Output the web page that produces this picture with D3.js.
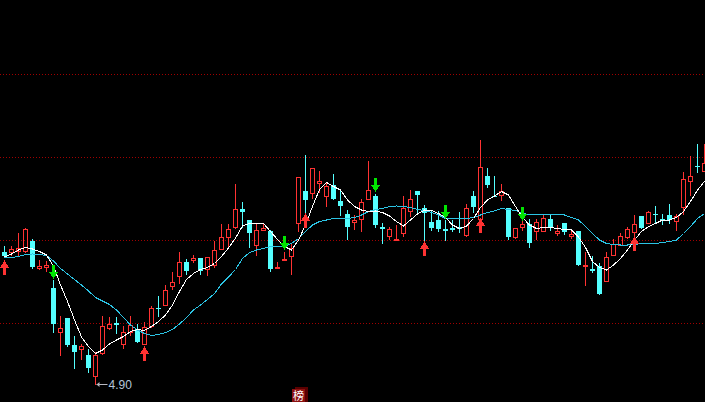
<!DOCTYPE html>
<html><head><meta charset="utf-8">
<script src="https://cdn.jsdelivr.net/npm/d3@7"></script>
<style>html,body{margin:0;padding:0;background:#000;overflow:hidden}svg{display:block}</style>
</head><body>
<svg id="c" width="705" height="402"></svg>
<script>
const opens = [5.165,5.167,5.169,5.169,5.188,5.135,5.137,5.093,5.007,5.034,
4.979,4.971,4.960,4.919,4.963,5.015,5.024,4.983,5.007,5.011,
4.983,5.017,5.055,5.059,5.097,5.117,5.146,5.150,5.154,5.131,
5.140,5.171,5.195,5.217,5.252,5.229,5.179,5.210,5.207,5.133,
5.150,5.159,5.223,5.288,5.283,5.305,5.278,5.300,5.268,5.242,
5.226,5.231,5.273,5.278,5.215,5.197,5.189,5.203,5.249,5.287,
5.253,5.226,5.230,5.211,5.213,5.215,5.201,5.278,5.231,5.317,
5.278,5.281,5.254,5.195,5.215,5.221,5.209,5.209,5.231,5.203,
5.223,5.197,5.208,5.138,5.132,5.138,5.107,5.161,5.180,5.195,
5.205,5.238,5.225,5.242,5.232,5.241,5.227,5.255,5.307,5.338,5.329];
const highs = [5.178,5.178,5.203,5.214,5.192,5.150,5.148,5.110,5.038,5.034,
4.997,4.982,4.971,4.965,5.037,5.035,5.036,5.017,5.037,5.022,
5.025,5.057,5.078,5.100,5.125,5.166,5.153,5.160,5.154,5.155,
5.187,5.222,5.222,5.302,5.266,5.229,5.222,5.222,5.210,5.146,
5.165,5.181,5.315,5.360,5.333,5.327,5.305,5.322,5.287,5.250,
5.240,5.273,5.348,5.282,5.223,5.215,5.220,5.278,5.290,5.287,
5.260,5.247,5.247,5.230,5.230,5.245,5.262,5.289,5.389,5.333,
5.317,5.302,5.254,5.214,5.230,5.231,5.231,5.240,5.240,5.219,
5.223,5.210,5.208,5.166,5.157,5.143,5.166,5.193,5.203,5.215,
5.240,5.238,5.249,5.258,5.242,5.262,5.242,5.325,5.357,5.382,5.382];
const lows = [5.155,5.157,5.155,5.163,5.133,5.130,5.125,5.005,4.957,4.977,
4.935,4.950,4.927,4.900,4.960,5.009,5.003,4.971,4.998,4.985,
4.982,5.015,5.037,5.059,5.089,5.103,5.122,5.145,5.122,5.117,
5.135,5.170,5.175,5.211,5.215,5.175,5.158,5.210,5.129,5.133,
5.147,5.120,5.205,5.217,5.271,5.283,5.257,5.273,5.240,5.193,
5.210,5.205,5.271,5.217,5.185,5.189,5.189,5.195,5.235,5.245,
5.190,5.210,5.207,5.190,5.207,5.205,5.195,5.246,5.227,5.295,
5.277,5.267,5.192,5.193,5.207,5.177,5.190,5.207,5.210,5.197,
5.202,5.193,5.140,5.097,5.127,5.081,5.107,5.157,5.178,5.193,
5.198,5.213,5.223,5.226,5.221,5.223,5.207,5.239,5.278,5.325,5.325];
const closes = [5.159,5.171,5.173,5.211,5.137,5.138,5.139,5.023,5.014,4.979,
4.965,4.977,4.933,4.960,5.018,5.023,5.019,5.006,5.019,4.986,
5.016,5.055,5.051,5.090,5.106,5.146,5.129,5.154,5.129,5.155,
5.170,5.195,5.211,5.251,5.245,5.203,5.210,5.214,5.132,5.137,
5.153,5.173,5.315,5.270,5.333,5.308,5.298,5.273,5.258,5.215,
5.230,5.266,5.290,5.220,5.212,5.211,5.193,5.254,5.271,5.279,
5.243,5.214,5.211,5.209,5.210,5.211,5.253,5.255,5.335,5.300,
5.277,5.288,5.195,5.214,5.221,5.183,5.226,5.234,5.213,5.207,
5.205,5.202,5.140,5.140,5.128,5.081,5.155,5.182,5.199,5.211,
5.221,5.214,5.246,5.239,5.229,5.229,5.238,5.313,5.318,5.335,5.343];
const maFast = [5.156,5.162,5.170,5.175,5.172,5.167,5.160,5.138,5.100,5.067,
5.030,4.996,4.977,4.963,4.970,4.982,4.990,4.997,5.007,5.011,
5.009,5.017,5.027,5.040,5.060,5.087,5.111,5.123,5.131,5.135,
5.143,5.157,5.174,5.194,5.218,5.223,5.223,5.223,5.207,5.191,
5.177,5.170,5.190,5.220,5.257,5.291,5.305,5.297,5.290,5.270,
5.257,5.250,5.247,5.248,5.245,5.238,5.227,5.218,5.230,5.242,
5.250,5.249,5.243,5.235,5.220,5.213,5.218,5.233,5.255,5.270,
5.278,5.287,5.280,5.257,5.235,5.220,5.213,5.215,5.215,5.213,
5.211,5.210,5.196,5.175,5.147,5.135,5.130,5.140,5.153,5.170,
5.190,5.207,5.217,5.223,5.230,5.230,5.235,5.247,5.267,5.290,5.307];
const maSlow = [5.154,5.155,5.157,5.161,5.162,5.161,5.159,5.148,5.133,5.122,
5.111,5.100,5.088,5.075,5.068,5.061,5.050,5.035,5.020,5.010,
5.003,4.999,5.001,5.005,5.011,5.022,5.035,5.050,5.060,5.071,
5.083,5.102,5.116,5.131,5.153,5.165,5.170,5.173,5.177,5.177,
5.177,5.183,5.193,5.207,5.220,5.227,5.230,5.233,5.233,5.233,
5.235,5.240,5.247,5.251,5.253,5.257,5.258,5.257,5.255,5.251,
5.249,5.245,5.240,5.233,5.233,5.233,5.233,5.235,5.240,5.245,
5.248,5.253,5.251,5.249,5.243,5.241,5.241,5.241,5.241,5.241,
5.240,5.235,5.230,5.217,5.203,5.190,5.183,5.181,5.180,5.180,
5.181,5.183,5.183,5.183,5.185,5.187,5.190,5.203,5.217,5.233,5.243];
const gridLevels = [5.0234, 5.1894, 5.3554, 5.5214];
const buyIdx = [0, 20, 43, 60, 68, 90];
const buyAt = [5.150, 4.978, 5.244, 5.187, 5.234, 5.197];
const sellIdx = [7, 40, 53, 63, 74];
const sellAt = [5.112, 5.170, 5.285, 5.231, 5.227];
const tagText = "榜";

const W = 705, H = 402;
const svg = d3.select("#c");
svg.append("rect").attr("width", W).attr("height", H).attr("fill", "#000");

const x = d3.scaleLinear().domain([0, 100]).range([4.3, 704.3]);
const y = d3.scaleLinear().domain([4.866, 5.67]).range([402, 0]);
const px = i => Math.floor(x(i));
const xc = i => px(i) + 0.5;
const ry = v => Math.round(y(v));

const RED = "#ff3232", CYAN = "#54ffff";

// grid
svg.append("g").selectAll("line").data(gridLevels).join("line")
  .attr("x1", 0).attr("x2", W)
  .attr("y1", d => Math.round(y(d)) + 0.5).attr("y2", d => Math.round(y(d)) + 0.5)
  .attr("stroke", "#a00000").attr("stroke-width", 1)
  .attr("stroke-dasharray", "1,2").attr("shape-rendering", "crispEdges");

// candles
const gC = svg.append("g").attr("shape-rendering", "crispEdges");
d3.range(opens.length).forEach(i => {
  const o = opens[i], c = closes[i], h = highs[i], l = lows[i];
  const up = c >= o;
  const t = ry(Math.max(o, c)), b = ry(Math.min(o, c));
  const ht = ry(h), lb = ry(l);
  const cx = xc(i), p = px(i);
  if (up) {
    if (ht < t) gC.append("line").attr("x1", cx).attr("x2", cx).attr("y1", ht).attr("y2", t).attr("stroke", RED);
    if (lb > b) gC.append("line").attr("x1", cx).attr("x2", cx).attr("y1", b).attr("y2", lb).attr("stroke", RED);
    if (b - t >= 2) {
      gC.append("rect").attr("x", p - 2 + 0.5).attr("y", t + 0.5).attr("width", 4).attr("height", b - t)
        .attr("fill", "none").attr("stroke", RED);
    } else {
      gC.append("rect").attr("x", p - 2).attr("y", t).attr("width", 5).attr("height", Math.max(1, b - t + 1)).attr("fill", RED);
    }
  } else {
    gC.append("line").attr("x1", cx).attr("x2", cx).attr("y1", ht).attr("y2", lb + 0.5).attr("stroke", CYAN);
    gC.append("rect").attr("x", p - 2).attr("y", t).attr("width", 5).attr("height", Math.max(1, b - t)).attr("fill", CYAN);
  }
});

// moving average lines
const line = d3.line().x((d, i) => xc(i)).y(d => y(d));
svg.append("path").datum(maSlow).attr("d", line).attr("fill", "none")
  .attr("stroke", "#2cc4e4").attr("stroke-width", 1).attr("shape-rendering", "crispEdges");
svg.append("path").datum(maFast).attr("d", line).attr("fill", "none")
  .attr("stroke", "#ffffff").attr("stroke-width", 1).attr("shape-rendering", "crispEdges");

// buy arrows (red, pointing up)
const gA = svg.append("g").attr("shape-rendering", "crispEdges");
buyIdx.forEach((idx, k) => {
  const cx = xc(idx), t = ry(buyAt[k]);
  gA.append("path").attr("d", `M${cx},${t}L${cx + 4.5},${t + 8}L${cx - 4.5},${t + 8}Z`).attr("fill", RED);
  gA.append("rect").attr("x", cx - 1.5).attr("y", t + 8).attr("width", 3).attr("height", 7).attr("fill", RED);
});
// sell arrows (green, pointing down)
sellIdx.forEach((idx, k) => {
  const cx = xc(idx), b = ry(sellAt[k]);
  gA.append("rect").attr("x", cx - 1.5).attr("y", b - 14).attr("width", 3).attr("height", 7).attr("fill", "#00e600");
  gA.append("path").attr("d", `M${cx - 4.5},${b - 7}L${cx + 4.5},${b - 7}L${cx},${b}Z`).attr("fill", "#00e600");
});

// lowest price annotation
const minLow = d3.min(lows), minIdx = lows.indexOf(minLow);
const ly = Math.round(y(minLow)) - 0.5, lx = xc(minIdx);
svg.append("path").attr("d", `M${lx + 1},${ly}L${lx + 12},${ly}`).attr("stroke", "#b8b8c0").attr("fill", "none");
svg.append("path").attr("d", `M${lx + 1},${ly}L${lx + 4},${ly - 2.5}L${lx + 4},${ly + 2.5}Z`).attr("fill", "#b8b8c0");
svg.append("text").attr("x", lx + 13).attr("y", ly + 4.5).text(d3.format(".2f")(minLow))
  .attr("fill", "#b4c6da").attr("font-family", "Liberation Sans, Arial, sans-serif").attr("font-size", 12);

// bottom tag
svg.append("rect").attr("x", 295).attr("y", 387).attr("width", 13).attr("height", 15).attr("fill", "#5a0000");
svg.append("rect").attr("x", 292).attr("y", 389).attr("width", 13).attr("height", 13).attr("fill", "#8c1010");
svg.append("text").attr("x", 298.5).attr("y", 399.5).attr("text-anchor", "middle").text(tagText)
  .attr("fill", "#ffffff").attr("font-family", "Noto Sans CJK SC, sans-serif").attr("font-size", 11);
</script>
</body></html>
